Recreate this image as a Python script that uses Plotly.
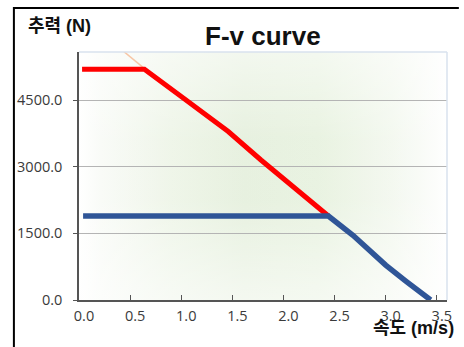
import base64
import plotly.graph_objects as go

# ---- data ----
red_v = [0.03, 0.64, 1.0, 1.17, 1.46, 1.78, 2.0, 2.22, 2.44]
red_f = [5190, 5190, 4580, 4275, 3790, 3150, 2740, 2330, 1890]

blue_v = [0.04, 2.44, 2.68, 3.0, 3.2, 3.44]
blue_f = [1890, 1890, 1455, 785, 420, 0]

peach_v = [0.42, 0.65]
peach_f = [5625, 5190]

x_ticks = [0.0, 0.5, 1.0, 1.5, 2.0, 2.5, 3.0, 3.5]
y_ticks = [0.0, 1500.0, 3000.0, 4500.0]
X_RANGE = [0, 3.6]
Y_RANGE = [0, 5580]

title_text = "F-v curve"
x_title = "속도 (m/s)"
y_title = "추력 (N)"

# ---- background gradient (style only) ----
svg = (
    '<svg xmlns="http://www.w3.org/2000/svg" width="400" height="300" viewBox="0 0 400 300" preserveAspectRatio="none">'
    '<defs>'
    '<linearGradient id="h" x1="0" y1="0" x2="1" y2="0">'
    '<stop offset="0" stop-color="#ffffff"/>'
    '<stop offset="0.06" stop-color="#f9fbf7"/>'
    '<stop offset="0.25" stop-color="#eef5e8"/>'
    '<stop offset="0.45" stop-color="#e6f0de"/>'
    '<stop offset="0.65" stop-color="#e8f2e0"/>'
    '<stop offset="0.85" stop-color="#f3f8ef"/>'
    '<stop offset="0.97" stop-color="#fcfdfb"/>'
    '<stop offset="1" stop-color="#ffffff"/>'
    '</linearGradient>'
    '<linearGradient id="v" x1="0" y1="0" x2="0" y2="1">'
    '<stop offset="0" stop-color="#ffffff" stop-opacity="0.5"/>'
    '<stop offset="0.35" stop-color="#ffffff" stop-opacity="0.05"/>'
    '<stop offset="0.6" stop-color="#ffffff" stop-opacity="0.05"/>'
    '<stop offset="1" stop-color="#ffffff" stop-opacity="0.55"/>'
    '</linearGradient>'
    '</defs>'
    '<rect x="0" y="0" width="400" height="300" fill="url(#h)"/>'
    '<rect x="0" y="0" width="400" height="300" fill="url(#v)"/></svg>'
)
svg_uri = "data:image/svg+xml;base64," + base64.b64encode(svg.encode()).decode()

fig = go.Figure()
fig.add_trace(go.Scatter(x=peach_v, y=peach_f, mode="lines",
                         line=dict(color="#f7c6a6", width=1.5),
                         showlegend=False, hoverinfo="skip"))
fig.add_trace(go.Scatter(x=red_v, y=red_f, mode="lines",
                         line=dict(color="#ff0000", width=5),
                         showlegend=False))
fig.add_trace(go.Scatter(x=blue_v, y=blue_f, mode="lines",
                         line=dict(color="#2f5597", width=5.5),
                         showlegend=False))

tick_font = dict(family="Open Sans, DejaVu Sans, sans-serif", size=14.5, color="#3a3a3a")

# frame position in paper units (pixel offsets relative to the plot area),
# kept inside the 464x347 figure
fx = (13 - 79) / 373
fy = (300 - 8) / 248
fbottom = (300 - 347) / 248
fright = (464 - 79) / 373
frame_path = f"M {fx:.4f},{fbottom:.4f} L {fx:.4f},{fy:.4f} L {fright:.4f},{fy:.4f}"

fig.update_layout(
    width=464, height=347,
    margin=dict(l=79, r=12, t=52, b=47),
    paper_bgcolor="white",
    plot_bgcolor="rgba(0,0,0,0)",
    showlegend=False,
    images=[dict(source=svg_uri, xref="paper", yref="paper", x=0, y=1,
                 sizex=1, sizey=1, xanchor="left", yanchor="top",
                 sizing="stretch", layer="below")],
    xaxis=dict(range=X_RANGE, tickvals=x_ticks, ticktext=[f"{v:.1f}" for v in x_ticks],
               showgrid=False, zeroline=False, showline=True, linecolor="#555555",
               linewidth=1.5, ticks="inside", ticklen=5, tickcolor="#555555",
               tickfont=tick_font, ticklabelshift=5, ticklabelstandoff=2),
    yaxis=dict(range=Y_RANGE, tickvals=y_ticks, ticktext=[f"{v:.1f}" for v in y_ticks],
               showgrid=True, gridcolor="#b4b4b4", gridwidth=1, zeroline=False,
               showline=True, linecolor="#555555", linewidth=1.5,
               ticks="outside", ticklen=4, tickcolor="#555555",
               tickfont=tick_font, ticklabelstandoff=8),
    shapes=[
        # light plot-area border (top and right)
        dict(type="line", xref="paper", yref="paper", x0=0, x1=1, y0=1, y1=1,
             line=dict(color="#d8e2ee", width=1.5)),
        dict(type="line", xref="paper", yref="paper", x0=1, x1=1, y0=0, y1=1,
             line=dict(color="#d8e2ee", width=1.5)),
        # outer black frame: left and top edges only
        dict(type="path", xref="paper", yref="paper", path=frame_path,
             line=dict(color="#000000", width=2), fillcolor="rgba(0,0,0,0)", layer="above"),
    ],
    annotations=[
        dict(text=f"<b>{title_text}</b>", xref="paper", yref="paper",
             x=(266 - 79) / 373, y=(300 - 36) / 248, xanchor="center", yanchor="middle",
             showarrow=False, font=dict(family="Arial, Liberation Sans, sans-serif", size=26, color="#111111")),
        dict(text=f"<b>{y_title}</b>", xref="paper", yref="paper",
             x=(25 - 79) / 373, y=(300 - 26) / 248, xanchor="left", yanchor="middle",
             showarrow=False, font=dict(family="Arial, Liberation Sans, Noto Sans CJK KR, sans-serif", size=18, color="#111111")),
        dict(text=f"<b>{x_title}</b>", xref="paper", yref="paper",
             x=(461 - 79) / 373, y=(300 - 328) / 248, xanchor="right", yanchor="middle",
             showarrow=False, font=dict(family="Arial, Liberation Sans, Noto Sans CJK KR, sans-serif", size=18, color="#111111")),
    ],
)

fig.write_html("out.html", config={"displayModeBar": False},
               post_script="document.body.style.margin='0';document.body.style.padding='0';")
